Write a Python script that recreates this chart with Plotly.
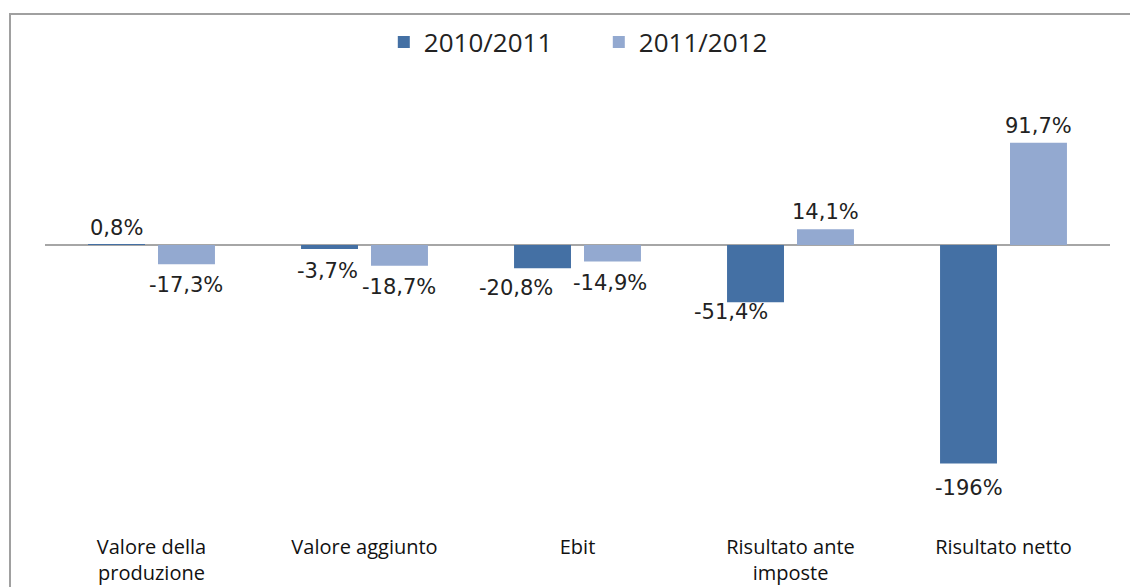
import plotly.graph_objects as go

categories = ["Valore della<br>produzione", "Valore aggiunto", "Ebit", "Risultato ante<br>imposte", "Risultato netto"]
series_names = ["2010/2011", "2011/2012"]
values_2010_2011 = [0.8, -3.7, -20.8, -51.4, -196]
values_2011_2012 = [-17.3, -18.7, -14.9, 14.1, 91.7]
labels_2010_2011 = ["0,8%", "-3,7%", "-20,8%", "-51,4%", "-196%"]
labels_2011_2012 = ["-17,3%", "-18,7%", "-14,9%", "14,1%", "91,7%"]
colors = ["#4470A4", "#93A9D0"]

# label nudges (pixels) to mimic the original label placement
label_dx = [[0, -2, -27, -25, 0], [0, 0, -2, 0, 0]]
label_dy = [[16, 22, 20, 10, 24], [21, 21, 21, 17, 17]]

BARGAP = 0.343
BARGROUPGAP = 0.186

fig = go.Figure()
for name, vals, col in zip(series_names, [values_2010_2011, values_2011_2012], colors):
    fig.add_trace(go.Bar(
        x=categories, y=vals, name=name,
        marker=dict(color=col, line=dict(width=0)),
        hoverinfo="x+y",
    ))

# data labels anchored on the bar ends through the axes
slot = (1 - BARGAP) / 2
annotations = []
for s, (vals, labs) in enumerate([(values_2010_2011, labels_2010_2011), (values_2011_2012, labels_2011_2012)]):
    off = (s - 0.5) * slot
    for i, (v, t) in enumerate(zip(vals, labs)):
        sign = 1 if v >= 0 else -1
        annotations.append(dict(
            x=i + off, y=v, xref="x", yref="y", text=t, showarrow=False,
            xanchor="center", yanchor="middle",
            xshift=label_dx[s][i], yshift=sign * label_dy[s][i],
            font=dict(family="DejaVu Sans", size=21, color="#222222"),
        ))

fig.update_layout(
    width=1130, height=587,
    margin=dict(l=45, r=20, t=100, b=54, autoexpand=False),
    paper_bgcolor="white", plot_bgcolor="white",
    barmode="group", bargap=BARGAP, bargroupgap=BARGROUPGAP,
    showlegend=True,
    legend=dict(orientation="h", x=0.52, xanchor="center", y=1.1339, yanchor="middle",
                font=dict(family="Open Sans", size=26, color="#222222"),
                bgcolor="rgba(0,0,0,0)", itemwidth=30, traceorder="normal",
                entrywidth=170, entrywidthmode="pixels"),
    xaxis=dict(showline=False, showgrid=False, zeroline=False, ticks="", automargin=False,
               tickfont=dict(family="Open Sans", size=20, color="#111111")),
    yaxis=dict(range=[-258.3, 130], showticklabels=False, showgrid=False, automargin=False,
               zeroline=True, zerolinecolor="#A6A6A6", zerolinewidth=1.5, showline=False),
    annotations=annotations,
    shapes=[dict(type="rect", xref="paper", yref="paper",
                 x0=-0.03286, x1=1.2, y0=-0.3, y1=1.1986, line=dict(color="#A0A0A0", width=2),
                 fillcolor="rgba(0,0,0,0)", layer="below")],
)

fig.write_html("out.html", config={"displayModeBar": False},
               post_script="document.body.style.margin='0';")
